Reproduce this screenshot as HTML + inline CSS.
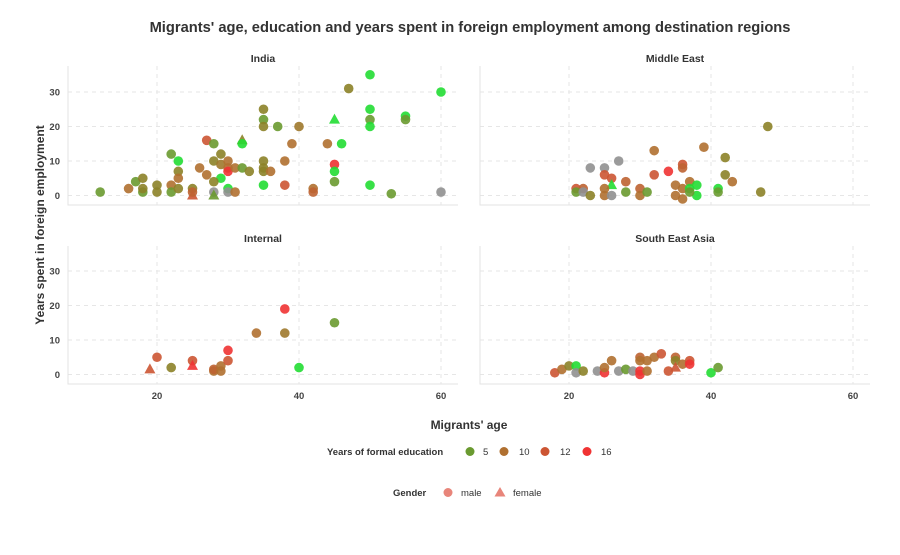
<!DOCTYPE html>
<html><head><meta charset="utf-8"><style>
body{margin:0;background:#fff;}
svg text{font-family:"Liberation Sans",sans-serif;}
</style></head><body>
<svg id="chart" width="900" height="550" xmlns="http://www.w3.org/2000/svg">
<rect width="900" height="550" fill="#fff"/>
<text x="470" y="32" text-anchor="middle" font-size="14.7" font-weight="bold" fill="#333">Migrants' age, education and years spent in foreign employment among destination regions</text>
<text transform="translate(44,225) rotate(-90)" text-anchor="middle" font-size="12" font-weight="bold" fill="#333">Years spent in foreign employment</text>
<text x="469" y="429" text-anchor="middle" font-size="12" font-weight="bold" fill="#333">Migrants' age</text>
<g id="panels"></g>
<g>
<text x="327" y="455" font-size="9.5" font-weight="bold" fill="#333">Years of formal education</text>
<circle cx="470" cy="451.5" r="4.5" fill="#6a9a30"/>
<text x="483" y="455" font-size="9.5" fill="#333">5</text>
<circle cx="504" cy="451.5" r="4.5" fill="#b07030"/>
<text x="519" y="455" font-size="9.5" fill="#333">10</text>
<circle cx="545" cy="451.5" r="4.5" fill="#cc5533"/>
<text x="560" y="455" font-size="9.5" fill="#333">12</text>
<circle cx="587" cy="451.5" r="4.5" fill="#f03333"/>
<text x="601" y="455" font-size="9.5" fill="#333">16</text>
</g>
<g>
<text x="393" y="496" font-size="9.5" font-weight="bold" fill="#333">Gender</text>
<circle cx="448" cy="492.5" r="4.5" fill="#e8857a"/>
<text x="461" y="496" font-size="9.5" fill="#333">male</text>
<polygon points="500,487 505.5,496.5 494.5,496.5" fill="#e8857a"/>
<text x="513" y="496" font-size="9.5" fill="#333">female</text>
</g>
</svg>
<script>
const xTicks = [20, 40, 60];
const yTicks = [0, 10, 20, 30];
const panelNames = ["India", "Middle East", "Internal", "South East Asia"];
// each point: [age, years, education (-1 = NA), gender (0 male, 1 female)]
const indiaPts = [[12,1,5,0],[16,2,10,0],[17,4,5,0],[18,5,8,0],[18,1,5,0],[18,2,8,0],[20,3,8,0],[20,1,8,0],[22,12,5,0],[23,10,0,0],[22,3,10,0],[22,1,5,0],[23,7,8,0],[23,5,10,0],[23,2,8,0],[25,2,8,0],[25,0,12,1],[25,1,11,0],[26,8,10,0],[27,6,10,0],[27,16,12,0],[28,15,5,0],[28,10,8,0],[28,1,-1,0],[28,0,5,1],[29,12,8,0],[29,5,0,0],[28,4,8,0],[29,9,9,0],[30,10,10,0],[30,8,10,0],[30,7,16,0],[30,2,0,0],[30,1,-1,0],[31,1,10,0],[31,8,10,0],[32,8,5,0],[32,16,8,1],[32,15,0,0],[33,7,8,0],[35,25,8,0],[35,22,5,0],[35,20,8,0],[35,10,8,0],[35,8,8,0],[35,7,8,0],[36,7,10,0],[35,3,0,0],[37,20,5,0],[38,10,10,0],[38,3,12,0],[39,15,10,0],[40,20,9,0],[42,2,10,0],[42,1,11,0],[44,15,10,0],[45,22,0,1],[45,9,16,0],[45,7,0,0],[45,4,5,0],[46,15,0,0],[47,31,8,0],[50,35,0,0],[50,25,0,0],[50,22,5,0],[50,20,0,0],[50,3,0,0],[53,0.5,5,0],[55,23,0,0],[55,22,5,0],[60,30,0,0],[60,1,-1,0]];
const middleEastPts = [[48,20,8,0],[47,1,8,0],[39,14,10,0],[32,13,10,0],[42,11,8,0],[42,6,8,0],[43,4,10,0],[41,2,0,0],[41,1,5,0],[36,9,12,0],[36,8,11,0],[34,7,16,0],[32,6,12,0],[27,10,-1,0],[23,8,-1,0],[25,8,-1,0],[25,6,12,0],[26,5,12,0],[28,4,11,0],[26,3,0,1],[21,2,12,0],[22,2,11,0],[21,1,5,0],[22,1,-1,0],[23,0,8,0],[25,2,10,0],[25,0,10,0],[26,0,-1,0],[28,1,5,0],[30,2,11,0],[30,0,10,0],[31,1,5,0],[35,3,10,0],[35,0,10,0],[36,2,10,0],[36,-1,10,0],[37,4,10,0],[37,2,0,0],[38,3,0,0],[38,0,0,0],[37,1,5,0]];
const internalPts = [[19,1.5,12,1],[20,5,12,0],[22,2,8,0],[25,4,12,0],[25,2.5,16,1],[28,1,10,0],[28,1.5,11,0],[29,1,10,0],[29,2.5,10,0],[30,4,12,0],[30,7,16,0],[34,12,10,0],[38,12,9,0],[38,19,16,0],[40,2,0,0],[45,15,5,0]];
const seAsiaPts = [[18,0.5,12,0],[19,1.5,10,0],[20,2.5,8,0],[21,2.5,0,0],[21,0.5,-1,0],[22,1,8,0],[24,1,-1,0],[25,0.5,16,0],[25,2,10,0],[26,4,10,0],[27,1,-1,0],[28,1.5,5,0],[29,1,-1,0],[30,1,16,0],[30,5,11,0],[30,4,10,0],[30,0,16,0],[31,4,10,0],[31,1,10,0],[32,5,10,0],[33,6,12,0],[34,1,12,0],[35,5,11,0],[35,4,8,0],[35,2,12,1],[36,3,10,0],[37,4,12,0],[37,3,16,0],[40,0.5,0,0],[41,2,5,0]];
const allPts = [indiaPts, middleEastPts, internalPts, seAsiaPts];

const NS = "http://www.w3.org/2000/svg";
const panels = document.getElementById('panels');
const layout = [{x0:68,x1:458,top:66,bot:205,zero:195.5},{x0:480,x1:870,top:66,bot:205,zero:195.5},{x0:68,x1:458,top:246,bot:384,zero:374.5},{x0:480,x1:870,top:246,bot:384,zero:374.5}];
const stops = [[0,[34,221,51]],[5,[106,154,48]],[8,[140,130,40]],[10,[176,112,48]],[12,[204,85,51]],[16,[240,51,51]]];
function eduColor(e){
  if(e<0) return '#909090';
  for(let i=0;i<stops.length-1;i++){
    const a=stops[i],b=stops[i+1];
    if(e<=b[0]){const t=(e-a[0])/(b[0]-a[0]);
      return 'rgb('+a[1].map((v,k)=>Math.round(v+(b[1][k]-v)*t)).join(',')+')';}
  }
  return 'rgb(240,51,51)';
}
function mk(tag, attrs, parent){const el=document.createElementNS(NS,tag);for(const k in attrs)el.setAttribute(k,attrs[k]);parent.appendChild(el);return el;}
allPts.forEach((pts,pi)=>{
  const L=layout[pi];
  const sx=a=>L.x0+89+(a-20)*7.1;
  const sy=v=>L.zero-v*3.45;
  const g=mk('g',{},panels);
  
  
  const st=mk('text',{x:(L.x0+L.x1)/2,y:L.top-4,'text-anchor':'middle','font-size':'10.5','font-weight':'bold',fill:'#333'},g);
  st.textContent=panelNames[pi];
  
  
  xTicks.forEach(t=>{
    const ln=mk('line',{x1:sx(t),x2:sx(t),y1:L.top,y2:L.bot,stroke:'#e6e6e6','stroke-dasharray':'4,4'},g);
    
    
    if(pi>=2){const tx=mk('text',{x:sx(t),y:L.bot+15,'text-anchor':'middle','font-size':'9.5','font-weight':'bold',fill:'#444'},g);tx.textContent=t;
      
      }
  });
  yTicks.forEach(t=>{
    const ln=mk('line',{x1:L.x0,x2:L.x1,y1:sy(t),y2:sy(t),stroke:'#e6e6e6','stroke-dasharray':'4,4'},g);
    
    
    if(pi%2==0){const tx=mk('text',{x:L.x0-8,y:sy(t)+3.5,'text-anchor':'end','font-size':'9.5','font-weight':'bold',fill:'#444'},g);tx.textContent=t;
      
      }
  });
  const ax=mk('path',{d:'M'+L.x0+','+L.top+'V'+L.bot+'H'+L.x1,fill:'none',stroke:'#e3e3e3','stroke-width':'1'},g);
  
  
  pts.forEach(p=>{
    const cx=sx(p[0]),cy=sy(p[1]),c=eduColor(p[2]);
    let el;
    if(p[3]==1){el=mk('polygon',{points:cx+','+(cy-6)+' '+(cx+5.5)+','+(cy+4)+' '+(cx-5.5)+','+(cy+4),fill:c,'fill-opacity':'0.9'},g);}
    else{el=mk('circle',{cx:cx,cy:cy,r:4.8,fill:c,'fill-opacity':'0.9'},g);}
    
    
  });
});
</script>
</body></html>
